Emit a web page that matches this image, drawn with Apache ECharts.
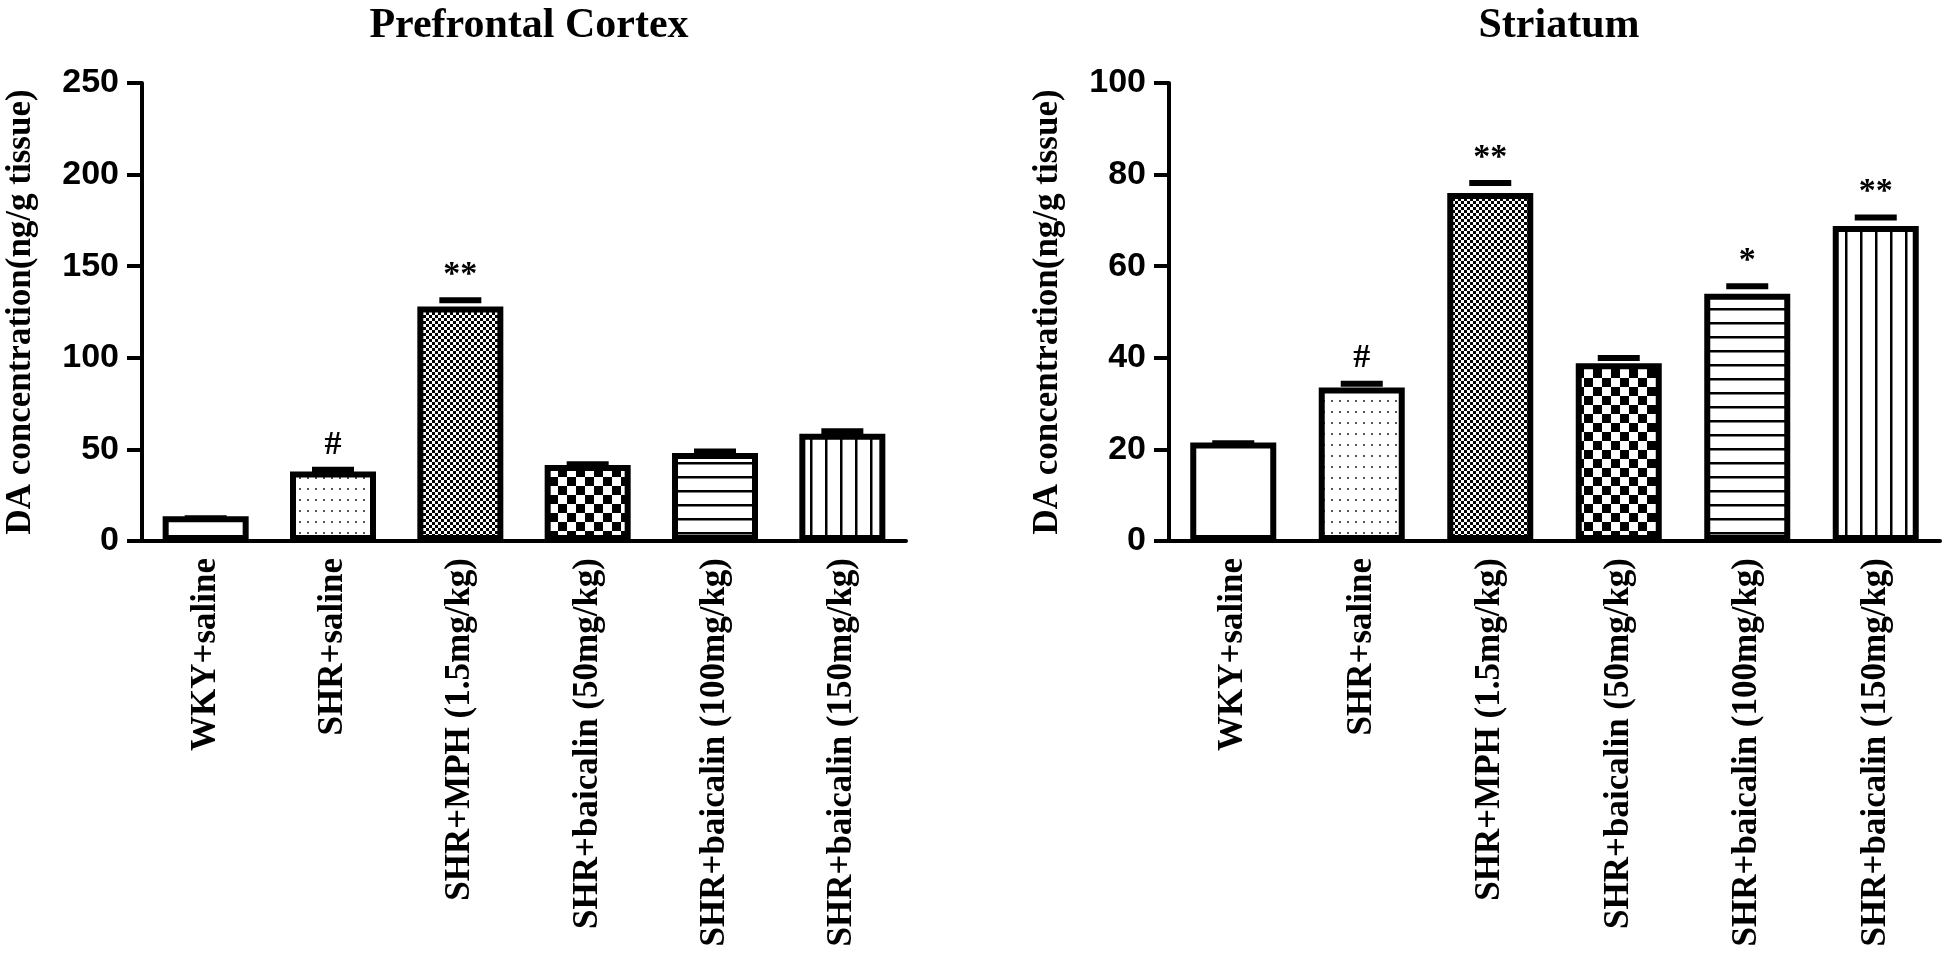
<!DOCTYPE html>
<html>
<head>
<meta charset="utf-8">
<title>DA concentration</title>
<script src="https://cdn.jsdelivr.net/npm/echarts@6/dist/echarts.min.js"></script>
<style>
  html, body { margin: 0; padding: 0; background: #fff; }
  #chart { width: 1946px; height: 958px; }
</style>
</head>
<body>
<div id="chart"></div>
<script>
// groups on the x axis
const categories = [
  'WKY+saline',
  'SHR+saline',
  'SHR+MPH (1.5mg/kg)',
  'SHR+baicalin (50mg/kg)',
  'SHR+baicalin (100mg/kg)',
  'SHR+baicalin (150mg/kg)'
]

// prefrontal cortex: mean and top of error bar
const pfcMean = [13.5, 38, 128, 41.5, 48, 58.5]
const pfcUpper = [14, 40.5, 133, 43.5, 50.5, 61.5]
const pfcSig = ['', '#', '**', '', '', '']

// striatum
const strMean = [21.5, 33.5, 76, 38.8, 54, 68.8]
const strUpper = [22, 35, 78.8, 40.6, 56.3, 71.3]
const strSig = ['', '#', '**', '', '*', '**']

// y axis ranges
const pfcAxis = { max: 250, step: 50 }
const strAxis = { max: 100, step: 20 }

const serif = "'Liberation Serif', 'Times New Roman', serif"
const sans = "'Liberation Sans', Arial, sans-serif"

// fill patterns, one per group
function makePattern(kind) {
  if (kind === 'none') return '#fff'
  const c = document.createElement('canvas')
  const ctx = c.getContext('2d')
  let w = 8, h = 8
  if (kind === 'dots') { w = 8; h = 11 }
  if (kind === 'fine') { w = 6; h = 6 }
  if (kind === 'check') { w = 18; h = 18 }
  if (kind === 'hlines') { w = 14; h = 14 }
  if (kind === 'vlines') { w = 15; h = 15 }
  c.width = w
  c.height = h
  ctx.fillStyle = '#fff'
  ctx.fillRect(0, 0, w, h)
  ctx.fillStyle = '#000'
  if (kind === 'dots') {
    ctx.fillStyle = '#555'
    ctx.fillRect(3, 4, 2, 2)
  } else if (kind === 'fine') {
    ctx.fillRect(0, 0, 3, 3)
    ctx.fillRect(3, 3, 3, 3)
  } else if (kind === 'check') {
    ctx.fillRect(0, 0, 9, 9)
    ctx.fillRect(9, 9, 9, 9)
  } else if (kind === 'hlines') {
    ctx.fillRect(0, 0, w, 2.5)
  } else if (kind === 'vlines') {
    ctx.fillRect(0, 0, 2.5, h)
  }
  return { image: c, repeat: 'repeat' }
}
const patterns = ['none', 'dots', 'fine', 'check', 'hlines', 'vlines'].map(makePattern)

function barData(values) {
  return values.map((v, i) => ({
    value: v,
    itemStyle: { color: patterns[i] }
  }))
}

function errData(upper, sig) {
  return upper.map((u, i) => [i, u, sig[i]])
}

function renderErr(params, api) {
  const top = api.coord([api.value(0), api.value(1)])
  const capW = 42
  const children = [
    {
      type: 'rect',
      shape: { x: top[0] - capW / 2, y: top[1], width: capW, height: 6 },
      style: { fill: '#000' }
    }
  ]
  const sig = api.value(2)
  if (sig) {
    children.push({
      type: 'text',
      style: {
        text: sig,
        x: top[0],
        y: top[1] - 22,
        align: 'center',
        verticalAlign: 'middle',
        fontFamily: serif,
        fontWeight: 'bold',
        fontSize: 34,
        fill: '#000'
      }
    })
  }
  return { type: 'group', children }
}

const el = document.getElementById('chart')
const chart = echarts.init(el, null, { renderer: 'canvas' })

function axisSet(idx, range) {
  return {
    x: {
      type: 'category',
      gridIndex: idx,
      data: categories,
      axisLine: { lineStyle: { color: '#000', width: 4 } },
      axisTick: { alignWithLabel: true, length: 12, lineStyle: { color: '#000', width: 4 } },
      axisLabel: {
        rotate: 90,
        margin: 17,
        color: '#000',
        fontFamily: serif,
        fontWeight: 'bold',
        fontSize: 35,
        interval: 0
      }
    },
    y: {
      type: 'value',
      gridIndex: idx,
      min: 0,
      max: range.max,
      interval: range.step,
      splitLine: { show: false },
      name: 'DA concentration(ng/g tissue)',
      nameLocation: 'middle',
      nameGap: 104,
      nameTextStyle: { color: '#000', fontFamily: serif, fontWeight: 'bold', fontSize: 35 },
      axisLine: { show: true, lineStyle: { color: '#000', width: 4 } },
      axisTick: { show: true, length: 15, lineStyle: { color: '#000', width: 4 } },
      axisLabel: { margin: 23, color: '#000', fontFamily: sans, fontWeight: 'bold', fontSize: 34 }
    }
  }
}

const a0 = axisSet(0, pfcAxis)
const a1 = axisSet(1, strAxis)

chart.setOption({
  backgroundColor: '#fff',
  animation: false,
  title: [
    {
      text: 'Prefrontal Cortex',
      left: 524,
      top: 0,
      textAlign: 'center',
      textStyle: { color: '#000', fontFamily: serif, fontWeight: 'bold', fontSize: 42 }
    },
    {
      text: 'Striatum',
      left: 1554,
      top: 0,
      textAlign: 'center',
      textStyle: { color: '#000', fontFamily: serif, fontWeight: 'bold', fontSize: 42 }
    }
  ],
  grid: [
    { left: 142, right: 1040, top: 83, bottom: 417 },
    { left: 1169, right: 6, top: 83, bottom: 417 }
  ],
  xAxis: [a0.x, a1.x],
  yAxis: [a0.y, a1.y],
  series: [
    {
      type: 'bar',
      xAxisIndex: 0,
      yAxisIndex: 0,
      barWidth: 86,
      data: barData(pfcMean),
      itemStyle: { borderColor: '#000', borderWidth: 6 },
      z: 3
    },
    {
      type: 'custom',
      xAxisIndex: 0,
      yAxisIndex: 0,
      data: errData(pfcUpper, pfcSig),
      renderItem: renderErr,
      clip: false,
      z: 4
    },
    {
      type: 'bar',
      xAxisIndex: 1,
      yAxisIndex: 1,
      barWidth: 86,
      data: barData(strMean),
      itemStyle: { borderColor: '#000', borderWidth: 6 },
      z: 3
    },
    {
      type: 'custom',
      xAxisIndex: 1,
      yAxisIndex: 1,
      data: errData(strUpper, strSig),
      renderItem: renderErr,
      clip: false,
      z: 4
    }
  ]
})

window.addEventListener('resize', () => chart.resize())
</script>
</body>
</html>
